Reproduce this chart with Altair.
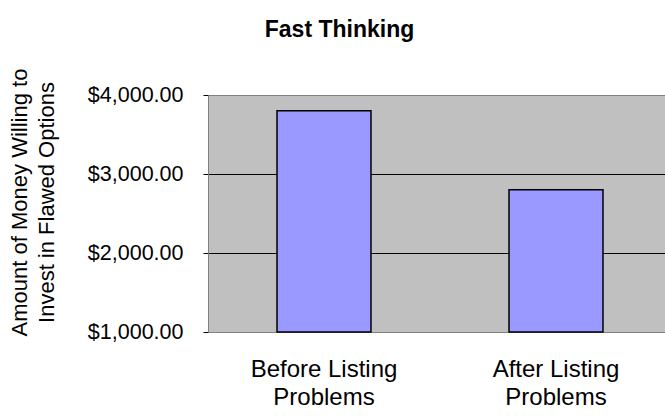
import altair as alt
import pandas as pd

categories = ["Before Listing|Problems", "After Listing|Problems"]
values = [3800, 2800]
y_ticks = [1000, 2000, 3000, 4000]
y_min = 1000
y_max = 4000

df = pd.DataFrame({"cat": categories, "val": values})

FONT = "Liberation Sans"

bars = alt.Chart(df).mark_bar(
    color="#9999FF", stroke="#000000", strokeWidth=1.5
).encode(
    x=alt.X(
        "cat:N",
        sort=categories,
        scale=alt.Scale(range=[0, 464], paddingInner=0.595, paddingOuter=0.2975),
        axis=alt.Axis(
            title=None,
            labelAngle=0,
            labelExpr="split(datum.label, '|')",
            labelFont=FONT,
            labelFontSize=24,
            labelColor="#000000",
            labelLineHeight=28,
            labelPadding=25,
            ticks=False,
            domainColor="#808080",
            domainWidth=1,
        ),
    ),
    y=alt.Y(
        "val:Q",
        scale=alt.Scale(domain=[y_min, y_max], nice=False, zero=False),
        axis=alt.Axis(
            title=["Amount of Money Willing to", "Invest in Flawed Options"],
            titleFont=FONT,
            titleFontSize=22,
            titleFontWeight="normal",
            titleColor="#000000",
            titleAngle=-90,
            titleAlign="center",
            titleBaseline="top",
            titleLineHeight=27,
            titleX=-199,
            titleY=107,
            values=y_ticks,
            format="$,.2f",
            labelFont=FONT,
            labelFontSize=21.5,
            labelColor="#000000",
            labelPadding=20,
            tickSize=5,
            tickColor="#000000",
            domainColor="#808080",
            grid=True,
            gridColor={"condition": {"test": "datum.value == 4000 || datum.value == 1000", "value": "#808080"}, "value": "#000000"},
            gridWidth=1,
        ),
    ),
    y2=alt.datum(y_min),
)

chart = bars.properties(
    width=457,
    height=237,
    autosize=alt.AutoSizeParams(type="none"),
    padding={"left": 208, "top": 95, "right": 0, "bottom": 85},
    background="#FFFFFF",
    title=alt.TitleParams(
        "Fast Thinking",
        font=FONT,
        fontSize=23,
        fontWeight="bold",
        color="#000000",
        anchor="middle",
        frame="group",
        dx=-97,
        offset=8,
        baseline="alphabetic",
    ),
).configure_view(
    fill="#C0C0C0", stroke="#808080", strokeWidth=1
)

chart.save("out.html", embed_options={"renderer": "svg", "actions": False})
